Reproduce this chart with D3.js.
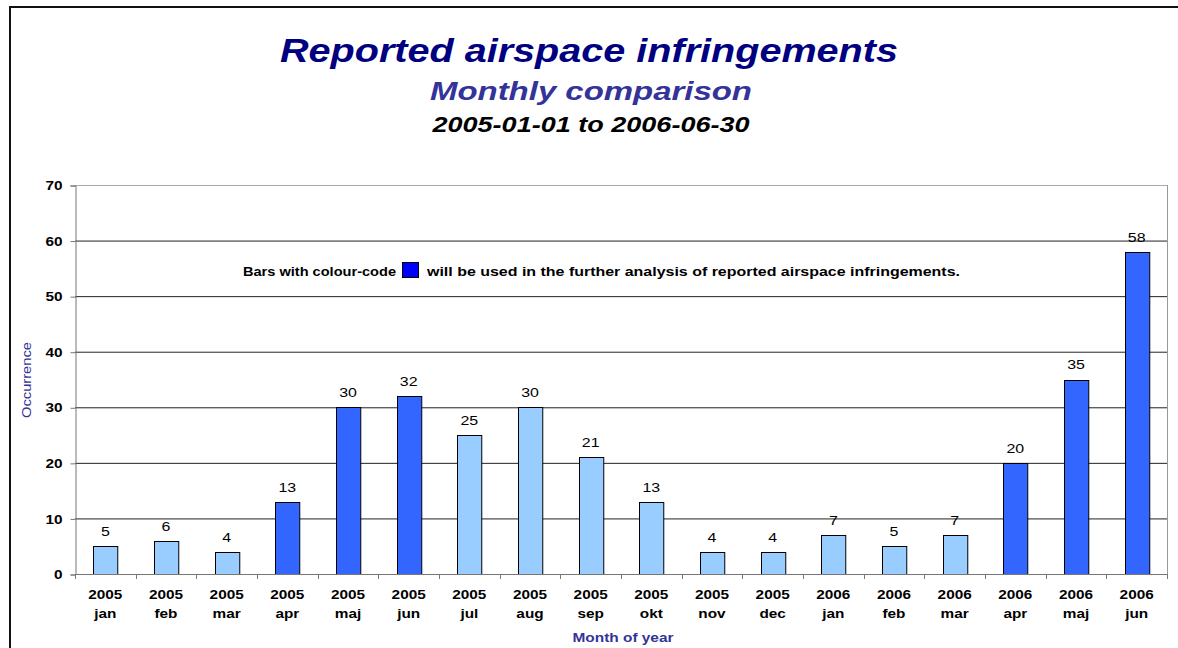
<!DOCTYPE html>
<html>
<head>
<meta charset="utf-8">
<script src="https://cdn.jsdelivr.net/npm/d3@7"></script>
<style>
  body { margin: 0; background: #fff; }
  text { font-family: "Liberation Sans", Arial, sans-serif; }
</style>
</head>
<body>
<div id="vizContainer"></div>
<script>
let w = 1178;
let h = 648;

// data
let years = ["2005","2005","2005","2005","2005","2005","2005","2005","2005","2005","2005","2005","2006","2006","2006","2006","2006","2006"];
let months = ["jan","feb","mar","apr","maj","jun","jul","aug","sep","okt","nov","dec","jan","feb","mar","apr","maj","jun"];
let values = [5, 6, 4, 13, 30, 32, 25, 30, 21, 13, 4, 4, 7, 5, 7, 20, 35, 58];
let analysed = [0, 0, 0, 1, 1, 1, 0, 0, 0, 0, 0, 0, 0, 0, 0, 1, 1, 1];
let yTicks = [0, 10, 20, 30, 40, 50, 60, 70];

let data = months.map((m, i) => ({
  key: i, year: years[i], month: m, value: values[i], used: analysed[i] == 1
}));

let plotLeft = 75, plotRight = 1167, plotTop = 185, plotBottom = 574;
let sx = 1.18; // the original's text is a bit wider than Liberation Sans

let viz = d3.select("#vizContainer").append("svg")
    .attr("width", w)
    .attr("height", h)
    .style("background-color", "white")
;

// outer frame
viz.append("rect")
  .attr("x", 10).attr("y", 7)
  .attr("width", 1200).attr("height", 700)
  .attr("fill", "none")
  .attr("stroke", "#111")
  .attr("stroke-width", 2)
;

// stretch a text horizontally around its own x
function stretch(sel, cx){
  sel.attr("transform", function(d){
    let x = typeof cx == "function" ? cx(d) : cx;
    return "translate(" + x + ",0) scale(" + sx + ",1) translate(" + (-x) + ",0)";
  });
}

// titles
viz.append("text")
  .attr("x", 589).attr("y", 62)
  .attr("text-anchor", "middle")
  .attr("textLength", 618).attr("lengthAdjust", "spacingAndGlyphs")
  .style("font-size", "33px").style("font-weight", "bold").style("font-style", "italic")
  .attr("fill", "#000080")
  .text("Reported airspace infringements");
viz.append("text")
  .attr("x", 591).attr("y", 100)
  .attr("text-anchor", "middle")
  .attr("textLength", 322).attr("lengthAdjust", "spacingAndGlyphs")
  .style("font-size", "26px").style("font-weight", "bold").style("font-style", "italic")
  .attr("fill", "#333399")
  .text("Monthly comparison");
viz.append("text")
  .attr("x", 591).attr("y", 132)
  .attr("text-anchor", "middle")
  .attr("textLength", 317).attr("lengthAdjust", "spacingAndGlyphs")
  .style("font-size", "22px").style("font-weight", "bold").style("font-style", "italic")
  .attr("fill", "#000")
  .text("2005-01-01 to 2006-06-30");

// scales
let xScale = d3.scaleBand().domain(data.map(d => d.key)).range([plotLeft, plotRight]).paddingInner(0.6).paddingOuter(0.3);
let yScale = d3.scaleLinear().domain([0, 70]).range([plotBottom, plotTop]);

// gridlines
viz.append("g").selectAll("line").data(yTicks.filter(t => t > 0)).join("line")
  .attr("x1", plotLeft).attr("x2", plotRight)
  .attr("y1", d => yScale(d) + 0.5).attr("y2", d => yScale(d) + 0.5)
  .attr("stroke", d => d == 70 ? "#aaa" : "#222")
  .attr("stroke-width", 1)
;
// right edge of plot
viz.append("line")
  .attr("x1", plotRight + 0.5).attr("x2", plotRight + 0.5)
  .attr("y1", plotTop).attr("y2", plotBottom)
  .attr("stroke", "#999");

// y axis
let yAxis = d3.axisLeft(yScale).tickValues(yTicks).tickSize(5).tickPadding(6);
let yAxisGroup = viz.append("g")
  .attr("transform", "translate(" + (plotLeft + 0.5) + ",0.5)")
  .call(yAxis);
yAxisGroup.select(".domain").attr("stroke", "#777");
yAxisGroup.selectAll("line").attr("stroke", "#777");
yAxisGroup.selectAll("text")
  .attr("text-anchor", "end")
  .attr("transform", "scale(" + sx + ",1)")
  .style("font-size", "13px").style("font-weight", "bold").attr("fill", "#000");

viz.append("text")
  .attr("transform", "translate(31," + 380 + ") rotate(-90)")
  .attr("text-anchor", "middle")
  .attr("textLength", 76).attr("lengthAdjust", "spacingAndGlyphs")
  .style("font-size", "12px")
  .attr("fill", "#333399")
  .text("Occurrence");

// bars
viz.append("g").selectAll("rect").data(data).join("rect")
  .attr("x", d => Math.round(xScale(d.key)) + 0.5)
  .attr("y", d => Math.round(yScale(d.value)) + 0.5)
  .attr("width", xScale.bandwidth())
  .attr("height", d => yScale(0) - Math.round(yScale(d.value)))
  .attr("fill", d => d.used ? "#3366FF" : "#99CCFF")
  .attr("stroke", "#000")
  .attr("stroke-width", 1)
;

// value labels
let cx = d => xScale(d.key) + xScale.bandwidth() / 2;
let valueLabels = viz.append("g").selectAll("text").data(data).join("text")
  .attr("x", cx)
  .attr("y", d => yScale(d.value) - 10)
  .attr("text-anchor", "middle")
  .style("font-size", "13.5px")
  .attr("fill", "#000")
  .text(d => d.value);
stretch(valueLabels, cx);

// x axis
let step = xScale.step();
let xAxisGroup = viz.append("g");
xAxisGroup.append("line")
  .attr("x1", plotLeft).attr("x2", plotRight + 1)
  .attr("y1", plotBottom + 0.5).attr("y2", plotBottom + 0.5)
  .attr("stroke", "#777");
xAxisGroup.selectAll(".tick").data(d3.range(19)).join("line")
  .attr("class", "tick")
  .attr("x1", i => Math.round(plotLeft + i * step) + 0.5)
  .attr("x2", i => Math.round(plotLeft + i * step) + 0.5)
  .attr("y1", plotBottom).attr("y2", plotBottom + 5)
  .attr("stroke", "#777");
let xLabels = xAxisGroup.selectAll(".xlab").data(data).join("text")
  .attr("class", "xlab")
  .attr("text-anchor", "middle")
  .style("font-size", "13px").style("font-weight", "bold")
  .attr("fill", "#000");
xLabels.append("tspan").attr("x", cx).attr("y", 599).text(d => d.year);
xLabels.append("tspan").attr("x", cx).attr("y", 618).text(d => d.month);
stretch(xLabels, cx);

viz.append("text")
  .attr("x", 623).attr("y", 642)
  .attr("text-anchor", "middle")
  .attr("textLength", 101).attr("lengthAdjust", "spacingAndGlyphs")
  .style("font-size", "12.5px").style("font-weight", "bold")
  .attr("fill", "#333399")
  .text("Month of year");

// note with colour-code swatch
let note = viz.append("g");
note.append("text")
  .attr("x", 243).attr("y", 276)
  .attr("textLength", 153).attr("lengthAdjust", "spacingAndGlyphs")
  .style("font-size", "12.5px").style("font-weight", "bold")
  .text("Bars with colour-code");
note.append("rect")
  .attr("x", 402.5).attr("y", 262.5)
  .attr("width", 16).attr("height", 15)
  .attr("fill", "#0000FF").attr("stroke", "#000");
note.append("text")
  .attr("x", 427).attr("y", 276)
  .attr("textLength", 533).attr("lengthAdjust", "spacingAndGlyphs")
  .style("font-size", "12.5px").style("font-weight", "bold")
  .text("will be used in the further analysis of reported airspace infringements.");
</script>
</body>
</html>
